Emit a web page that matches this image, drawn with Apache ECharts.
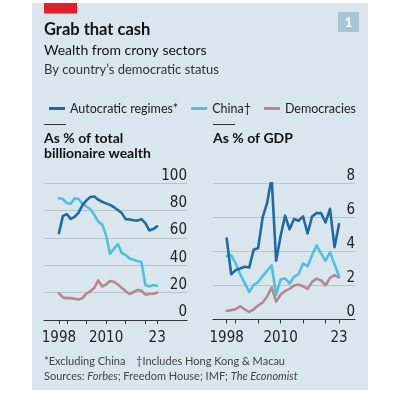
<!DOCTYPE html>
<html>
<head>
<meta charset="utf-8">
<script src="https://cdn.jsdelivr.net/npm/echarts@6/dist/echarts.min.js"></script>
<style>
html,body{margin:0;padding:0;background:#fff;}
#c{width:399px;height:393px;}
</style>
</head>
<body>
<div id="c"></div>
<script>
// ---- data ----
const years = [1998,1999,2000,2001,2002,2003,2004,2005,2006,2007,2008,2009,2010,2011,2012,2013,2014,2015,2016,2017,2018,2019,2020,2021,2022,2023];

// As % of total billionaire wealth
const autoShare  = [63.5,76,77.5,74,75.5,78.5,84,87.5,90,90.3,88,86.5,85.3,84.2,82.5,80.5,78.2,73.8,73.5,73,72.7,73.8,70.8,65.5,66.5,68.5];
const chinaShare = [89,88.5,85.5,85,89,88.5,85,83,81,77,72,70,62,48.5,52,55.5,49,47.5,45,44,43.2,42.5,25.6,24.5,25.5,25];
const democShare = [19.5,16.5,16,16,15.5,15,16,19.5,21,23.5,29,24.5,26,28.5,28,26,23.5,21,19,20.5,22,21.5,18.5,19,19.2,20];

// As % of GDP
const autoGDP  = [4.75,2.66,2.9,3.0,3.1,3.05,4.1,4.2,6.0,6.85,8.35,3.45,4.9,6.1,5.3,5.9,5.8,6.05,5.05,6.05,6.25,6.25,5.7,6.5,4.25,5.6];
const chinaGDP = [3.72,3.78,3.29,2.66,2.14,1.62,2.02,2.21,2.55,2.86,3.19,1.45,2.35,2.41,2.12,2.51,2.66,3.29,3.13,3.78,4.35,3.88,3.45,3.95,3.25,2.55];
const democGDP = [0.5,0.55,0.6,0.78,0.6,0.45,0.6,0.82,1.0,1.35,1.88,1.05,1.45,1.68,1.8,2.0,2.05,1.95,1.8,2.2,2.4,2.3,2.0,2.45,2.6,2.47];

const seriesNames = ['Autocratic regimes*','China\u2020','Democracies'];
const xTickValues  = [1998,2000,2005,2010,2015,2020,2023];
const xLabelValues = [1998,2010,2023];
const xLabelTexts  = ['1998','2010','23'];
const yTicksShare = [0,20,40,60,80,100];
const yTicksGDP   = [0,2,4,6,8];

// ---- styling ----
const C_AUTO = '#1f6aa3', C_CHINA = '#4fc2d6', C_DEM = '#b5878f';
const BG = '#d9e6ee', GRID = '#b6c4cc', AX = '#333';
const SANS = 'Lato, "Noto Sans", sans-serif';
const NARROW = '"Liberation Sans Narrow", "DejaVu Sans Condensed", Lato, sans-serif';

const pairs = v => years.map((y,i)=>[y, v[i]]);
const labelFmt = v => { const i = xLabelValues.indexOf(v); return i >= 0 ? xLabelTexts[i] : ''; };

function xAxis(gi, min, max){
  return {
    gridIndex: gi, type:'value', min, max,
    axisLine:{show:true, onZero:false, lineStyle:{color:AX, width:1}},
    axisTick:{show:true, customValues:xTickValues, length:4, lineStyle:{color:AX, width:1}},
    axisLabel:{customValues:xLabelValues, formatter:labelFmt, color:'#222', fontFamily:NARROW, fontSize:15, margin:11},
    splitLine:{show:false}
  };
}
function yAxis(gi, ticks){
  return {
    gridIndex: gi, type:'value', position:'right',
    min: ticks[0], max: ticks[ticks.length-1], interval: ticks[1]-ticks[0],
    axisLine:{show:false}, axisTick:{show:false},
    axisLabel:{inside:true, margin:0, verticalAlign:'bottom', color:'#222', fontFamily:NARROW, fontSize:15},
    splitLine:{show:true, lineStyle:{color:GRID, width:1}}
  };
}
function line(name, gi, data, color){
  return {name, type:'line', xAxisIndex:gi, yAxisIndex:gi, data:pairs(data), showSymbol:false,
    lineStyle:{color, width:2.6, join:'round', cap:'round'}, itemStyle:{color}, animation:false};
}

const chart = echarts.init(document.getElementById('c'), null, {renderer:'canvas'});
chart.setOption({
  backgroundColor:'#fff',
  animation:false,
  grid:[
    {left:44, width:143, top:183.3, height:136.7},
    {left:213, width:142, top:183.3, height:136.2}
  ],
  xAxis:[xAxis(0,1994.2,2030.6), xAxis(1,1994.95,2026.56)],
  yAxis:[yAxis(0,yTicksShare), yAxis(1,yTicksGDP)],
  legend:{
    data:seriesNames, left:44, top:97, icon:'rect', itemWidth:16, itemHeight:3, itemGap:13, itemTextGap:4,
    textStyle:{fontFamily:SANS, fontSize:12.5, color:'#222'}, selectedMode:false
  },
  series:[
    line(seriesNames[2],0,democShare,C_DEM),
    line(seriesNames[1],0,chinaShare,C_CHINA),
    line(seriesNames[0],0,autoShare,C_AUTO),
    line(seriesNames[2],1,democGDP,C_DEM),
    line(seriesNames[1],1,chinaGDP,C_CHINA),
    line(seriesNames[0],1,autoGDP,C_AUTO)
  ],
  graphic:[
    {type:'rect', z:-10, shape:{x:32,y:3,width:336,height:387}, style:{fill:BG}},
    {type:'rect', z:1, shape:{x:44,y:3,width:33,height:10.5}, style:{fill:'#e3202a'}},
    {type:'rect', z:1, shape:{x:338,y:12,width:21,height:20}, style:{fill:'#a6c5d6'}},
    {type:'text', z:2, x:348.5, y:22.5, style:{text:'1', fill:'#fff', font:'bold 13px '+SANS, align:'center', verticalAlign:'middle'}},
    {type:'text', z:2, x:44, y:29.5, style:{text:'Grab that cash', fill:'#121212', font:'bold 16.5px '+SANS, align:'left', verticalAlign:'middle'}},
    {type:'text', z:2, x:44, y:50.5, style:{text:'Wealth from crony sectors', fill:'#121212', font:'14px '+SANS, align:'left', verticalAlign:'middle'}},
    {type:'text', z:2, x:44, y:69.5, style:{text:'By country\u2019s democratic status', fill:'#333', font:'13px '+SANS, align:'left', verticalAlign:'middle'}},
    {type:'rect', z:1, shape:{x:44,y:124,width:22,height:1}, style:{fill:'#333'}},
    {type:'rect', z:1, shape:{x:213,y:124,width:22,height:1}, style:{fill:'#333'}},
    {type:'text', z:2, x:44, y:138.5, style:{text:'As % of total', fill:'#121212', font:'bold 14px '+SANS, align:'left', verticalAlign:'middle'}},
    {type:'text', z:2, x:44, y:153.5, style:{text:'billionaire wealth', fill:'#121212', font:'bold 14px '+SANS, align:'left', verticalAlign:'middle'}},
    {type:'text', z:2, x:213, y:138.5, style:{text:'As % of GDP', fill:'#121212', font:'bold 14px '+SANS, align:'left', verticalAlign:'middle'}},
    {type:'text', z:2, x:44, y:361, style:{text:'*Excluding China', fill:'#444', font:'11px '+SANS, align:'left', verticalAlign:'middle'}},
    {type:'text', z:2, x:136, y:361, style:{text:'\u2020Includes Hong Kong & Macau', fill:'#444', font:'11px '+SANS, align:'left', verticalAlign:'middle'}},
    {type:'text', z:2, x:44, y:376, style:{
      text:'{n|Sources: }{i|Forbes}{n|; Freedom House; IMF; }{i|The Economist}',
      align:'left', verticalAlign:'middle',
      rich:{n:{fontFamily:SANS, fontSize:11, fill:'#444', color:'#444'}, i:{fontFamily:SANS, fontSize:11, fontStyle:'italic', fill:'#444', color:'#444'}}
    }}
  ]
});
</script>
</body>
</html>
